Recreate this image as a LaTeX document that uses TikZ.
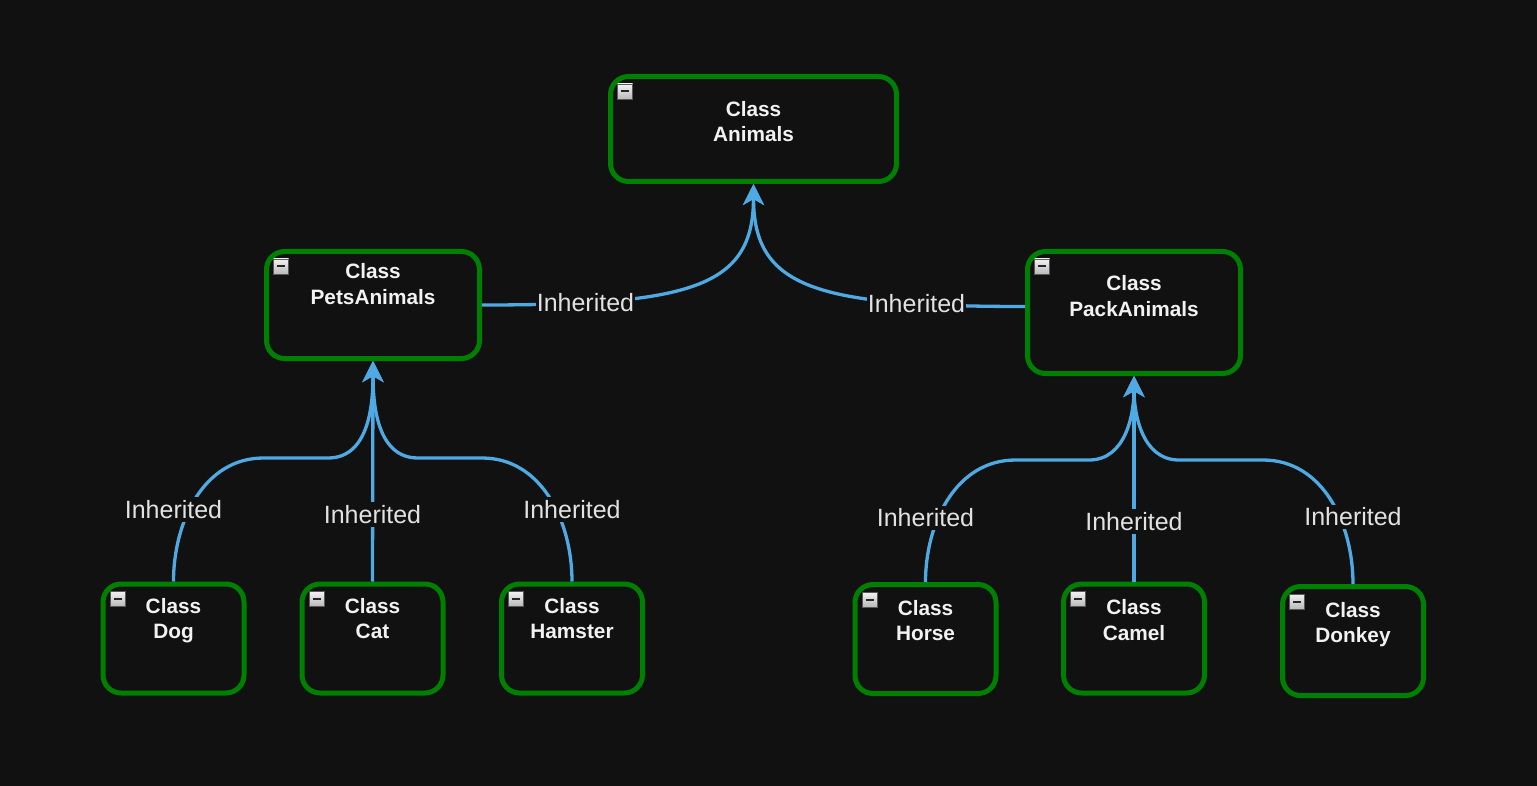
\documentclass[tikz,border=0pt]{standalone}
\usepackage{fontspec}
\setmainfont{Liberation Sans}
\usetikzlibrary{calc,arrows.meta}
\definecolor{bg}{HTML}{111111}
\definecolor{boxgreen}{HTML}{008000}
\definecolor{edgeblue}{HTML}{4FA9E2}
\definecolor{clstext}{HTML}{F2F2F2}
\definecolor{lbltext}{HTML}{E2E2E2}
\tikzset{
  cls/.style={
    draw=boxgreen, line width=5pt, rounded corners=18pt, fill=bg,
    text=clstext, font=\fontsize{20.8}{25.5}\selectfont\bfseries, align=center,
    minimum width=141pt, minimum height=109pt, text depth=#1
  },
  cls/.default=40pt,
  icon/.style={
    draw=gray!70!black, line width=0.8pt, top color=gray!10, bottom color=gray!55,
    minimum size=15pt, inner sep=0pt, rounded corners=0pt,
    path picture={
      \draw[line width=2pt,black!85]
        ([xshift=3.5pt]path picture bounding box.west) --
        ([xshift=-3.5pt]path picture bounding box.east);
    }
  },
  inh/.style={
    draw=edgeblue, line width=3.3pt,
    -{Stealth[length=21pt,width=21pt,inset=6pt]}
  },
  lbl/.style={
    fill=bg, text=lbltext, inner xsep=1pt, inner ysep=3pt,
    font=\fontsize{25}{29}\selectfont
  }
}

\begin{document}
\begin{tikzpicture}[x=1pt,y=-1pt]
  \fill[bg] (0,0) rectangle (1537,786);
  \useasboundingbox (0,0) rectangle (1537,786);

  % Classes
  \node[cls=15pt, minimum width=286pt, minimum height=105pt] (animals) at (753.5,129) {Class\\Animals};
  \node[cls=42pt, minimum width=213pt, minimum height=107pt] (pets) at (373,305) {Class\\PetsAnimals};
  \node[cls=33pt, minimum width=213pt, minimum height=122pt] (pack) at (1134,312.5) {Class\\PackAnimals};

  \node[cls] (dog) at (173.5,638.5) {Class\\Dog};
  \node[cls] (cat) at (372.5,638.5) {Class\\Cat};
  \node[cls] (hamster) at (572,638.5) {Class\\Hamster};
  \node[cls=37pt] (horse) at (925.5,639) {Class\\Horse};
  \node[cls=37pt] (camel) at (1134,638.5) {Class\\Camel};
  \node[cls=37pt] (donkey) at (1353,641) {Class\\Donkey};

  % collapse boxes
  \foreach \n in {animals,pets,pack,dog,cat,hamster,horse,camel,donkey}
    \node[icon] (\n-icon) at ($(\n.north west)+(17,17.5)$) {};

  \coordinate (bus-pets) at (0,458);
  \coordinate (bus-pack) at (0,460);

  % Inheritance
  \draw[inh] (pets.east) .. controls +(208,0) and +(0,104) .. (animals.south)
    node[lbl,pos=0.19] (l-pets) {Inherited};
  \draw[inh] ([yshift=6pt]pack.west) .. controls +(-209,0) and +(0,104) .. (animals.south)
    node[lbl,pos=0.2] (l-pack) {Inherited};

  \foreach \c/\p/\s/\a/\b/\h in {dog/pets/1/180/0/72, hamster/pets/-1/0/180/72,
                                 horse/pack/1/180/0/64, donkey/pack/-1/0/180/67}
    \draw[inh] (\c.north) node[lbl,yshift=\h] (l-\c) {Inherited}
      to[out=90,in=\a] ($(\c.north |- bus-\p)+(\s*90,0)$)
      -- ($(\p.south |- bus-\p)+(\s*-45,0)$)
      to[out=\b,in=-90] (\p.south);

  \draw[inh] (cat.north) node[lbl,yshift=67] (l-cat) {Inherited} -- (pets.south);
  \draw[inh] (camel.north) node[lbl,yshift=60] (l-camel) {Inherited} -- (pack.south);
\end{tikzpicture}
\end{document}
